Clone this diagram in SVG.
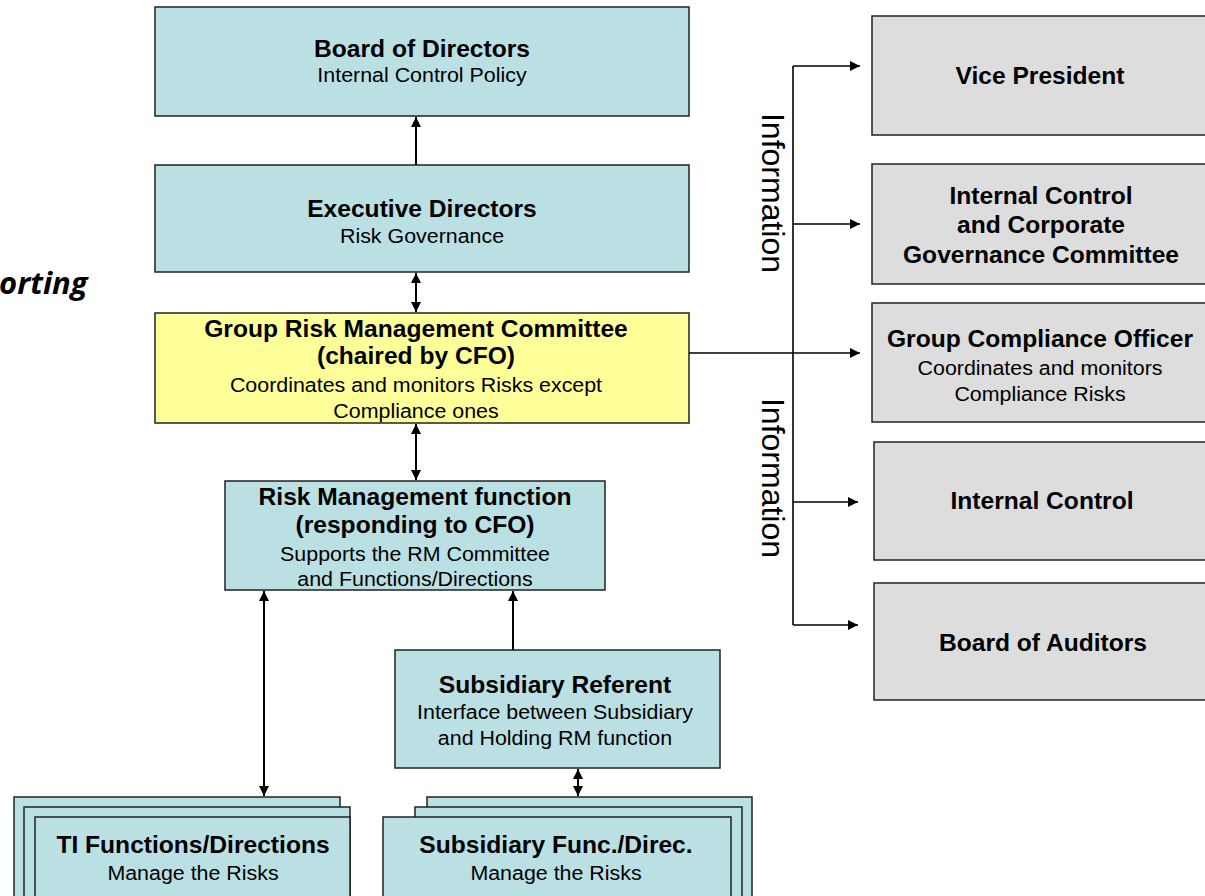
<svg xmlns="http://www.w3.org/2000/svg" width="1205" height="896" viewBox="0 0 1205 896">
<style>
.box{stroke:#222;stroke-width:1.5}
.teal{fill:#bbe0e3}
.yel{fill:#ffff99}
.gray{fill:#dddddd}
text{font-family:"Liberation Sans",Arial,sans-serif;fill:#000;text-anchor:middle}
.b{font-weight:bold;font-size:23px}
.r{font-size:20px}
.ln{stroke:#000;stroke-width:2;fill:none}
.bus{stroke:#000;stroke-width:1.6;fill:none}
.info{font-size:32px}
</style>
<defs>
<marker id="ah" viewBox="0 0 10 10" refX="10" refY="5" markerWidth="10" markerHeight="10" markerUnits="userSpaceOnUse" orient="auto-start-reverse">
<path d="M0,0 L10,5 L0,10 z" fill="#000"/>
</marker>
</defs>
<rect width="1205" height="896" fill="#fff"/>

<text x="-1" y="294" style="font-family:'Open Sans','DejaVu Sans',sans-serif;font-weight:bold;font-style:italic;font-size:31px;text-anchor:start">orting</text>

<g id="board">
<rect class="box teal" x="155" y="7" width="534" height="109"/>
<g transform="translate(422 0) scale(1.07 1)">
<text class="b" x="0" y="57">Board of Directors</text>
<text class="r" x="0" y="82">Internal Control Policy</text>
</g>
</g>

<g id="exec">
<rect class="box teal" x="155" y="165" width="534" height="107"/>
<g transform="translate(422 0) scale(1.07 1)">
<text class="b" x="0" y="217">Executive Directors</text>
<text class="r" x="0" y="243">Risk Governance</text>
</g>
</g>

<g id="grmc">
<rect class="box yel" x="155" y="313" width="534" height="110"/>
<g transform="translate(416 0) scale(1.07 1)">
<text class="b" x="0" y="337">Group Risk Management Committee</text>
<text class="b" x="0" y="364">(chaired by CFO)</text>
<text class="r" x="0" y="392">Coordinates and monitors Risks except</text>
<text class="r" x="0" y="418">Compliance ones</text>
</g>
</g>

<g id="rmf">
<rect class="box teal" x="225" y="481" width="380" height="109"/>
<g transform="translate(415 0) scale(1.07 1)">
<text class="b" x="0" y="505">Risk Management function</text>
<text class="b" x="0" y="533">(responding to CFO)</text>
<text class="r" x="0" y="561">Supports the RM Committee</text>
<text class="r" x="0" y="586">and Functions/Directions</text>
</g>
</g>

<g id="subref">
<rect class="box teal" x="395" y="650" width="325" height="118"/>
<g transform="translate(555 0) scale(1.07 1)">
<text class="b" x="0" y="693">Subsidiary Referent</text>
<text class="r" x="0" y="719">Interface between Subsidiary</text>
<text class="r" x="0" y="745">and Holding RM function</text>
</g>
</g>

<g id="ti">
<rect class="box teal" x="14" y="797" width="326" height="120"/>
<rect class="box teal" x="24" y="807" width="326" height="120"/>
<rect class="box teal" x="35" y="817" width="315" height="120"/>
<g transform="translate(193 0) scale(1.07 1)">
<text class="b" x="0" y="853">TI Functions/Directions</text>
<text class="r" x="0" y="880">Manage the Risks</text>
</g>
</g>

<g id="subfunc">
<rect class="box teal" x="427" y="797" width="325" height="120"/>
<rect class="box teal" x="415" y="807" width="327" height="120"/>
<rect class="box teal" x="383" y="817" width="348" height="120"/>
<g transform="translate(556 0) scale(1.07 1)">
<text class="b" x="0" y="853">Subsidiary Func./Direc.</text>
<text class="r" x="0" y="880">Manage the Risks</text>
</g>
</g>

<g id="vp">
<rect class="box gray" x="872" y="16" width="345" height="119"/>
<g transform="translate(1040 0) scale(1.07 1)">
<text class="b" x="0" y="84">Vice President</text>
</g>
</g>

<g id="iccg">
<rect class="box gray" x="872" y="164" width="345" height="120"/>
<g transform="translate(1041 0) scale(1.07 1)">
<text class="b" x="0" y="204">Internal Control</text>
<text class="b" x="0" y="233">and Corporate</text>
<text class="b" x="0" y="263">Governance Committee</text>
</g>
</g>

<g id="gco">
<rect class="box gray" x="872" y="303" width="345" height="119"/>
<g transform="translate(1040 0) scale(1.07 1)">
<text class="b" x="0" y="347">Group Compliance Officer</text>
<text class="r" x="0" y="375">Coordinates and monitors</text>
<text class="r" x="0" y="401">Compliance Risks</text>
</g>
</g>

<g id="ic">
<rect class="box gray" x="874" y="442" width="345" height="118"/>
<g transform="translate(1042 0) scale(1.07 1)">
<text class="b" x="0" y="509">Internal Control</text>
</g>
</g>

<g id="boa">
<rect class="box gray" x="874" y="583" width="345" height="117"/>
<g transform="translate(1043 0) scale(1.07 1)">
<text class="b" x="0" y="651">Board of Auditors</text>
</g>
</g>

<g id="connectors">
<line class="ln" x1="416" y1="165" x2="416" y2="117" marker-end="url(#ah)"/>
<line class="ln" x1="416" y1="273" x2="416" y2="312" marker-start="url(#ah)" marker-end="url(#ah)"/>
<line class="ln" x1="416" y1="424" x2="416" y2="480" marker-start="url(#ah)" marker-end="url(#ah)"/>
<line class="ln" x1="264" y1="591" x2="264" y2="796" marker-start="url(#ah)" marker-end="url(#ah)"/>
<line class="ln" x1="513" y1="650" x2="513" y2="591" marker-end="url(#ah)"/>
<line class="ln" x1="578" y1="769" x2="578" y2="796" marker-start="url(#ah)" marker-end="url(#ah)"/>
<line class="bus" x1="793" y1="66" x2="793" y2="625"/>
<line class="bus" x1="793" y1="66" x2="860" y2="66" marker-end="url(#ah)"/>
<line class="bus" x1="793" y1="224" x2="860" y2="224" marker-end="url(#ah)"/>
<line class="bus" x1="689" y1="353" x2="860" y2="353" marker-end="url(#ah)"/>
<line class="bus" x1="793" y1="502" x2="858" y2="502" marker-end="url(#ah)"/>
<line class="bus" x1="793" y1="625" x2="858" y2="625" marker-end="url(#ah)"/>
<text class="info" transform="translate(762 193) rotate(90)">Information</text>
<text class="info" transform="translate(762 478) rotate(90)">Information</text>
</g>
</svg>
